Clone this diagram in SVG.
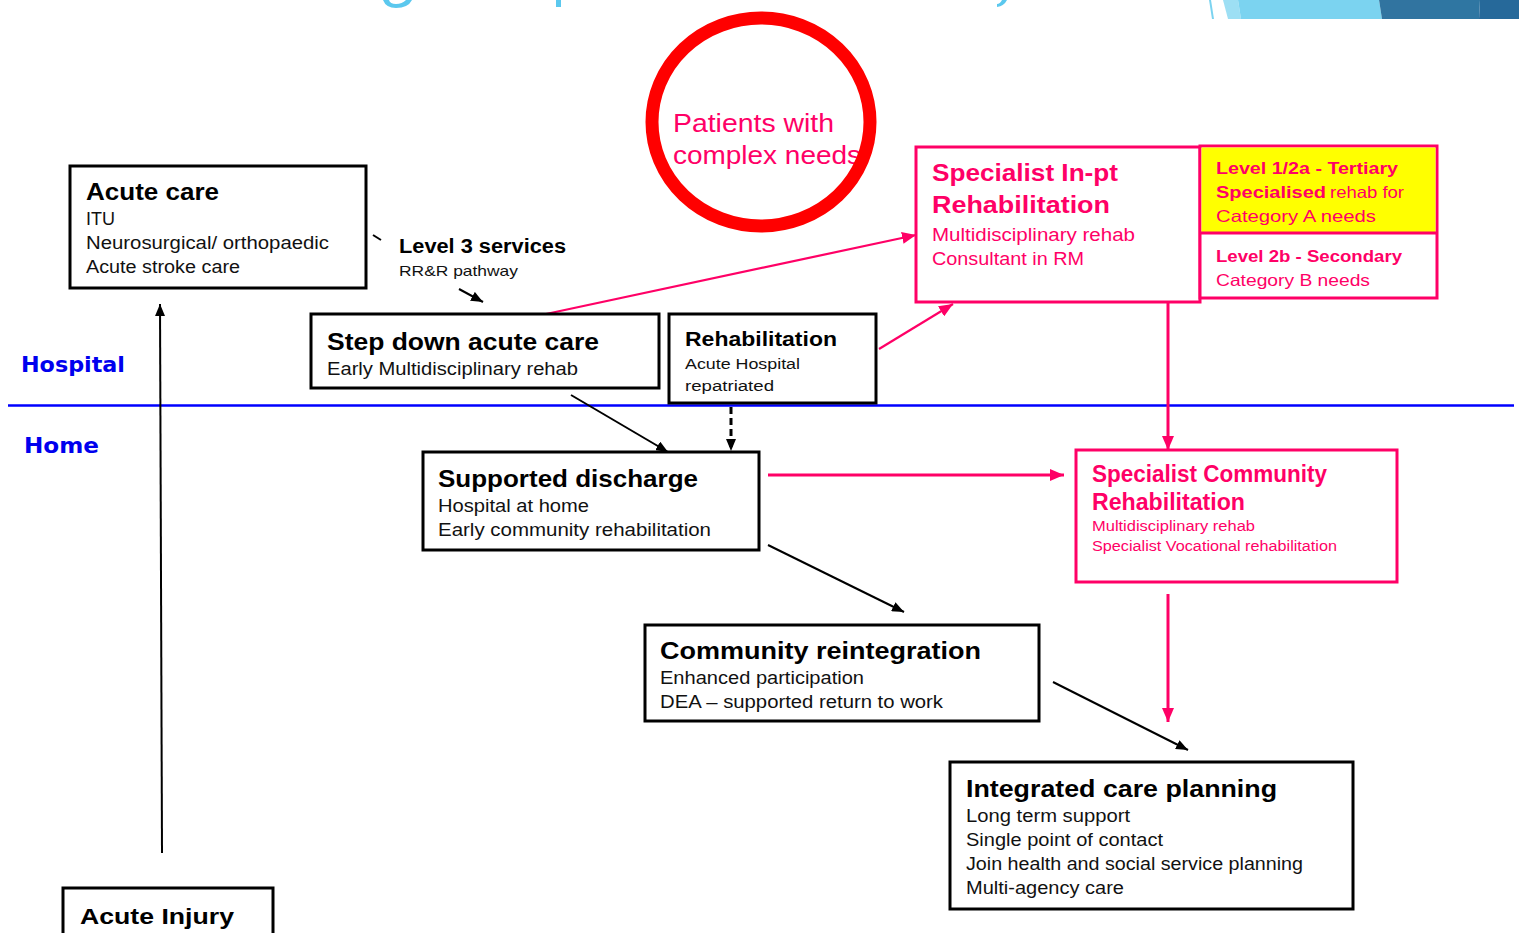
<svg xmlns="http://www.w3.org/2000/svg" width="1519" height="933" viewBox="0 0 1519 933">
<style>
text{font-family:"Liberation Sans",Arial,sans-serif;}
.box{fill:#fff;stroke:#000;stroke-width:3;}
.pbox{fill:#fff;stroke:#ff0066;stroke-width:3;}
.tt{font-weight:bold;font-size:24px;fill:#000;}
.bd{font-size:17.5px;fill:#111;}
.pt{font-weight:bold;font-size:24px;fill:#ff0066;}
.pb{font-size:17.5px;fill:#ff0066;}
.zone{font-family:"DejaVu Sans",Verdana,sans-serif;font-weight:bold;font-size:22px;fill:#0000ee;}
.con{stroke:#000;stroke-width:2;fill:none;}
.pcon{stroke:#ff0066;stroke-width:2.2;fill:none;}
.pcon3{stroke:#ff0066;stroke-width:3;fill:none;}
</style>
<defs>
<marker id="ah" viewBox="0 0 12 10" refX="12" refY="5" markerWidth="12" markerHeight="10" markerUnits="userSpaceOnUse" orient="auto">
<path d="M0,0 L12,5 L0,10 z" fill="#000"/>
</marker>
<marker id="ph" viewBox="0 0 14 12" refX="14" refY="6" markerWidth="14" markerHeight="12" markerUnits="userSpaceOnUse" orient="auto">
<path d="M0,0 L14,6 L0,12 z" fill="#ff0066"/>
</marker>
</defs>
<rect width="1519" height="933" fill="#fff"/>

<g id="decoration">
<path d="M383,0 Q386,8 396,8 Q408,8 412,0 L406,0 Q402,4 396,4 Q390,4 389,0 z" fill="#5bc8ee"/>
<rect x="556" y="0" width="5" height="7" fill="#5bc8ee"/>
<path d="M997,7 Q1004,6 1007,0 L1002,0 Q1000,4 997,4 z" fill="#5bc8ee"/>
<polygon points="1209,0 1211,0 1214,19 1212,19" fill="#7bd3f0"/>
<polygon points="1223,0 1238,0 1241,19 1228,19" fill="#9ddff4"/>
<polygon points="1238,0 1379,0 1382,19 1241,19" fill="#7bd3f0"/>
<polygon points="1379,0 1430,0 1430,19 1382,19" fill="#3174a0"/>
<polygon points="1430,0 1480,0 1479,19 1430,19" fill="#2f76a2"/>
<polygon points="1480,0 1519,0 1519,19 1479,19" fill="#26699a"/>
</g>

<g id="zones">
<line x1="8" y1="405.5" x2="1514" y2="405.5" stroke="#0000ff" stroke-width="2.5"/>
<text class="zone" x="21" y="372" textLength="104" lengthAdjust="spacingAndGlyphs">Hospital</text>
<text class="zone" x="24" y="453" textLength="75" lengthAdjust="spacingAndGlyphs">Home</text>
</g>

<g id="connectors">
<line class="con" x1="162" y1="853" x2="160" y2="304" marker-end="url(#ah)"/>
<line class="con" x1="373" y1="235" x2="381" y2="240"/>
<line class="con" x1="459" y1="289" x2="483" y2="302" marker-end="url(#ah)"/>
<line class="con" x1="571" y1="395" x2="668" y2="452" marker-end="url(#ah)"/>
<line x1="731" y1="407" x2="731" y2="451" stroke="#000" stroke-width="3" stroke-dasharray="7,4" marker-end="url(#ah)"/>
<line class="con" x1="768" y1="545" x2="904" y2="612" marker-end="url(#ah)"/>
<line class="con" x1="1053" y1="682" x2="1188" y2="750" marker-end="url(#ah)"/>
<line class="pcon" x1="546" y1="314" x2="916" y2="235" marker-end="url(#ph)"/>
<line class="pcon" x1="879" y1="349" x2="953" y2="304" marker-end="url(#ph)"/>
<line class="pcon3" x1="1168" y1="300" x2="1168" y2="450" marker-end="url(#ph)"/>
<line class="pcon3" x1="768" y1="475" x2="1064" y2="475" marker-end="url(#ph)"/>
<line class="pcon3" x1="1168" y1="594" x2="1168" y2="722" marker-end="url(#ph)"/>
</g>

<g id="patients-complex-needs">
<text x="673" y="132" font-size="25" fill="#ff0066" textLength="161" lengthAdjust="spacingAndGlyphs">Patients with</text>
<text x="673" y="164" font-size="25" fill="#ff0066" textLength="188" lengthAdjust="spacingAndGlyphs">complex needs</text>
<ellipse cx="761" cy="122" rx="109" ry="104" fill="none" stroke="#ff0000" stroke-width="13"/>
</g>

<g id="acute-care">
<rect class="box" x="70" y="166" width="296" height="122" stroke-width="2"/>
<text class="tt" x="86" y="200" textLength="133" lengthAdjust="spacingAndGlyphs">Acute care</text>
<text class="bd" x="86" y="225" textLength="29" lengthAdjust="spacingAndGlyphs">ITU</text>
<text class="bd" x="86" y="249" textLength="243" lengthAdjust="spacingAndGlyphs">Neurosurgical/ orthopaedic</text>
<text class="bd" x="86" y="273" textLength="154" lengthAdjust="spacingAndGlyphs">Acute stroke care</text>
</g>

<g id="level-3-services">
<text x="399" y="253" font-size="20" font-weight="bold" fill="#000" textLength="167" lengthAdjust="spacingAndGlyphs">Level 3 services</text>
<text x="399" y="276" font-size="15" fill="#111" textLength="119" lengthAdjust="spacingAndGlyphs">RR&amp;R pathway</text>
</g>

<g id="step-down">
<rect class="box" x="311" y="314" width="348" height="74"/>
<text class="tt" x="327" y="350" textLength="272" lengthAdjust="spacingAndGlyphs">Step down acute care</text>
<text class="bd" x="327" y="375" textLength="251" lengthAdjust="spacingAndGlyphs">Early Multidisciplinary rehab</text>
</g>

<g id="rehabilitation">
<rect class="box" x="669" y="314" width="207" height="89"/>
<text x="685" y="346" font-size="21" font-weight="bold" fill="#000" textLength="152" lengthAdjust="spacingAndGlyphs">Rehabilitation</text>
<text x="685" y="369" font-size="15.5" fill="#111" textLength="115" lengthAdjust="spacingAndGlyphs">Acute Hospital</text>
<text x="685" y="391" font-size="15.5" fill="#111" textLength="89" lengthAdjust="spacingAndGlyphs">repatriated</text>
</g>

<g id="specialist-inpt">
<rect class="pbox" x="916" y="147" width="284" height="155"/>
<text class="pt" x="932" y="181" textLength="186" lengthAdjust="spacingAndGlyphs">Specialist In-pt</text>
<text class="pt" x="932" y="213" textLength="178" lengthAdjust="spacingAndGlyphs">Rehabilitation</text>
<text class="pb" x="932" y="241" textLength="203" lengthAdjust="spacingAndGlyphs">Multidisciplinary rehab</text>
<text class="pb" x="932" y="265" textLength="152" lengthAdjust="spacingAndGlyphs">Consultant in RM</text>
</g>

<g id="levels">
<rect x="1200" y="146" width="237" height="152" fill="#fff" stroke="#ff0066" stroke-width="3"/>
<rect x="1201.5" y="147.5" width="234" height="85" fill="#ffff00"/>
<line x1="1200" y1="233" x2="1437" y2="233" stroke="#ff0066" stroke-width="3"/>
<text x="1216" y="174" font-size="16.5" font-weight="bold" fill="#ff0066" textLength="182" lengthAdjust="spacingAndGlyphs">Level 1/2a - Tertiary</text>
<text x="1216" y="198" font-size="16.5" font-weight="bold" fill="#ff0066" textLength="110" lengthAdjust="spacingAndGlyphs">Specialised</text>
<text x="1330" y="198" font-size="16.5" fill="#ff0066" textLength="74" lengthAdjust="spacingAndGlyphs">rehab for</text>
<text x="1216" y="222" font-size="16.5" fill="#ff0066" textLength="160" lengthAdjust="spacingAndGlyphs">Category A  needs</text>
<text x="1216" y="262" font-size="16.5" font-weight="bold" fill="#ff0066" textLength="186" lengthAdjust="spacingAndGlyphs">Level 2b - Secondary</text>
<text x="1216" y="286" font-size="16.5" fill="#ff0066" textLength="154" lengthAdjust="spacingAndGlyphs">Category B needs</text>
</g>

<g id="supported-discharge">
<rect class="box" x="423" y="452" width="336" height="98"/>
<text class="tt" x="438" y="487" textLength="260" lengthAdjust="spacingAndGlyphs">Supported discharge</text>
<text class="bd" x="438" y="512" textLength="151" lengthAdjust="spacingAndGlyphs">Hospital at home</text>
<text class="bd" x="438" y="536" textLength="273" lengthAdjust="spacingAndGlyphs">Early community rehabilitation</text>
</g>

<g id="specialist-community">
<rect class="pbox" x="1076" y="450" width="321" height="132"/>
<text class="pt" x="1092" y="482" font-size="22" textLength="235" lengthAdjust="spacingAndGlyphs">Specialist Community</text>
<text class="pt" x="1092" y="510" font-size="22" textLength="153" lengthAdjust="spacingAndGlyphs">Rehabilitation</text>
<text x="1092" y="531" font-size="14" fill="#ff0066" textLength="163" lengthAdjust="spacingAndGlyphs">Multidisciplinary rehab</text>
<text x="1092" y="551" font-size="14" fill="#ff0066" textLength="245" lengthAdjust="spacingAndGlyphs">Specialist Vocational rehabilitation</text>
</g>

<g id="community-reintegration">
<rect class="box" x="645" y="625" width="394" height="96"/>
<text class="tt" x="660" y="659" textLength="321" lengthAdjust="spacingAndGlyphs">Community reintegration</text>
<text class="bd" x="660" y="684" textLength="204" lengthAdjust="spacingAndGlyphs">Enhanced participation</text>
<text class="bd" x="660" y="708" textLength="283" lengthAdjust="spacingAndGlyphs">DEA – supported return to work</text>
</g>

<g id="integrated-care">
<rect class="box" x="950" y="762" width="403" height="147"/>
<text class="tt" x="966" y="797" textLength="311" lengthAdjust="spacingAndGlyphs">Integrated care planning</text>
<text class="bd" x="966" y="822" textLength="164" lengthAdjust="spacingAndGlyphs">Long term support</text>
<text class="bd" x="966" y="846" textLength="197" lengthAdjust="spacingAndGlyphs">Single point of contact</text>
<text class="bd" x="966" y="870" textLength="337" lengthAdjust="spacingAndGlyphs">Join health and social service planning</text>
<text class="bd" x="966" y="894" textLength="158" lengthAdjust="spacingAndGlyphs">Multi-agency care</text>
</g>

<g id="acute-injury">
<rect class="box" x="63" y="888" width="210" height="60"/>
<text x="80" y="924" font-family="DejaVu Sans, Verdana, sans-serif" font-weight="bold" font-size="22" fill="#000" textLength="154" lengthAdjust="spacingAndGlyphs">Acute Injury</text>
</g>
</svg>
